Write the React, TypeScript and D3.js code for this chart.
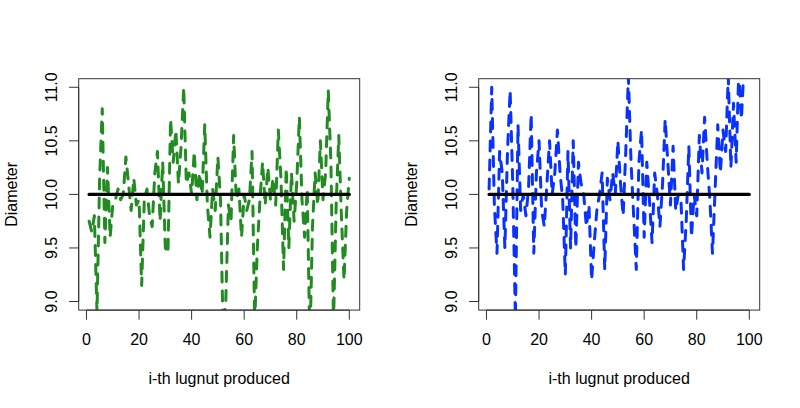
import React from "react";
import * as d3 from "d3";

const greenValues: number[] = [
  9.75, 9.65, 9.8, 8.9, 10.15, 10.8, 9.55, 10.25, 9.6, 9.9,
  9.95, 10.05, 9.95, 10.0, 10.35, 10.1, 9.85, 10.15, 9.9, 9.95,
  9.15, 9.95, 10.05, 9.8, 9.7, 10.2, 10.4, 9.75, 10.3, 9.5,
  9.45, 10.7, 10.3, 10.6, 10.1, 10.45, 11.0, 10.1, 10.2, 10.0,
  10.4, 9.95, 10.2, 10.0, 10.65, 9.9, 9.6, 10.05, 9.85, 10.35,
  9.95, 8.7, 9.0, 9.9, 9.75, 10.55, 9.95, 10.05, 9.6, 10.0,
  9.85, 9.95, 10.4, 8.8, 9.5, 9.95, 10.3, 9.9, 10.25, 9.95,
  10.15, 9.9, 10.6, 10.15, 9.3, 10.25, 9.5, 10.2, 9.75, 10.1,
  10.72, 9.95, 9.6, 10.05, 8.6, 9.7, 10.2, 9.9, 10.5, 9.95,
  10.2, 10.97, 10.3, 8.8, 9.9, 10.55, 9.8, 9.2, 9.85, 10.15,
];

const blueValues: number[] = [
  10.05, 11.0, 9.9, 9.45, 10.4, 10.2, 9.5, 10.4, 10.97, 10.1,
  8.85, 10.65, 9.85, 10.0, 9.8, 10.05, 10.75, 9.45, 10.2, 10.5,
  9.85, 9.7, 10.1, 10.5, 10.0, 10.2, 10.6, 10.2, 9.95, 9.25,
  10.4, 9.5, 10.5, 9.5, 10.3, 10.1, 10.0, 9.7, 9.9, 9.2,
  9.55, 9.85, 10.0, 10.2, 9.3, 10.15, 9.95, 10.2, 10.0, 10.5,
  10.1, 9.8, 10.4, 11.1, 10.3, 9.8, 9.3, 10.3, 10.6, 9.6,
  10.3, 9.95, 9.55, 10.2, 10.0, 9.7, 10.1, 10.7, 10.3, 9.9,
  10.45, 9.85, 10.0, 9.95, 9.3, 9.75, 10.45, 9.6, 10.0, 9.8,
  10.55, 10.2, 10.72, 10.3, 9.95, 9.45, 10.05, 10.65, 10.2, 10.6,
  10.4, 11.1, 10.25, 10.85, 10.3, 11.15, 10.7, 11.2, 11.1, 11.3,
];

const xTicks: number[] = [0, 20, 40, 60, 80, 100];
const yTicks: number[] = [9.0, 9.5, 10.0, 10.5, 11.0];
const targetValue = 10;
const xLabel = "i-th lugnut produced";
const yLabel = "Diameter";

const W = 800;
const H = 408;
const FONT = "'Liberation Sans', Arial, Helvetica, sans-serif";

type PanelProps = { offsetX: number; values: number[]; color: string; id: string };

function Panel({ offsetX, values, color, id }: PanelProps) {
  const left = offsetX + 78.7;
  const right = offsetX + 359.7;
  const top = 78.7;
  const bottom = 310.1;
  const n = values.length;
  const xPad = (n - 1) * 0.04;
  const x = d3.scaleLinear().domain([1 - xPad, n + xPad]).range([left, right]);
  const y = d3.scaleLinear().domain([9 - 0.08, 11 + 0.08]).range([bottom, top]);
  const pts: [number, number][] = values.map((v, i) => [i + 1, v]);
  const line = d3
    .line<[number, number]>()
    .x((d) => x(d[0]))
    .y((d) => y(d[1]));
  const hline = line([
    [1, targetValue],
    [n, targetValue],
  ]);
  return (
    <g>
      <defs>
        <clipPath id={id}>
          <rect x={left} y={top} width={right - left} height={bottom - top} />
        </clipPath>
      </defs>
      <g clipPath={`url(#${id})`}>
        <path
          d={line(pts) || ""}
          fill="none"
          stroke={color}
          strokeWidth={3}
          strokeDasharray="10 9"
          strokeLinecap="round"
          strokeLinejoin="round"
        />
        <path d={hline || ""} fill="none" stroke="#000" strokeWidth={3.2} strokeLinecap="round" />
      </g>
      <rect x={left} y={top} width={right - left} height={bottom - top} fill="none" stroke="#333" strokeWidth={1} />
      <line x1={x(xTicks[0])} x2={x(xTicks[xTicks.length - 1])} y1={bottom} y2={bottom} stroke="#333" />
      {xTicks.map((t) => (
        <g key={"x" + t}>
          <line x1={x(t)} x2={x(t)} y1={bottom} y2={bottom + 9.6} stroke="#333" />
          <text x={x(t)} y={345} textAnchor="middle" fontSize={16} fontFamily={FONT} fill="#000">
            {t}
          </text>
        </g>
      ))}
      <line x1={left} x2={left} y1={y(yTicks[0])} y2={y(yTicks[yTicks.length - 1])} stroke="#333" />
      {yTicks.map((t) => (
        <g key={"y" + t}>
          <line x1={left - 9.6} x2={left} y1={y(t)} y2={y(t)} stroke="#333" />
          <text
            transform={`translate(${offsetX + 56.5},${y(t)}) rotate(-90)`}
            textAnchor="middle"
            fontSize={16}
            fontFamily={FONT}
            fill="#000"
          >
            {t.toFixed(1)}
          </text>
        </g>
      ))}
      <text x={(left + right) / 2} y={383.5} textAnchor="middle" fontSize={16} fontFamily={FONT} fill="#000">
        {xLabel}
      </text>
      <text
        transform={`translate(${offsetX + 16.5},${(top + bottom) / 2}) rotate(-90)`}
        textAnchor="middle"
        fontSize={16}
        fontFamily={FONT}
        fill="#000"
      >
        {yLabel}
      </text>
    </g>
  );
}

export default function App() {
  return (
    <svg
      width={W}
      height={H}
      style={{ position: "absolute", left: 0, top: 0, background: "#fff" }}
    >
      <rect x={0} y={0} width={W} height={H} fill="#fff" />
      <Panel offsetX={0} values={greenValues} color="#228B22" id="clipL" />
      <Panel offsetX={400} values={blueValues} color="#0a32ff" id="clipR" />
    </svg>
  );
}
